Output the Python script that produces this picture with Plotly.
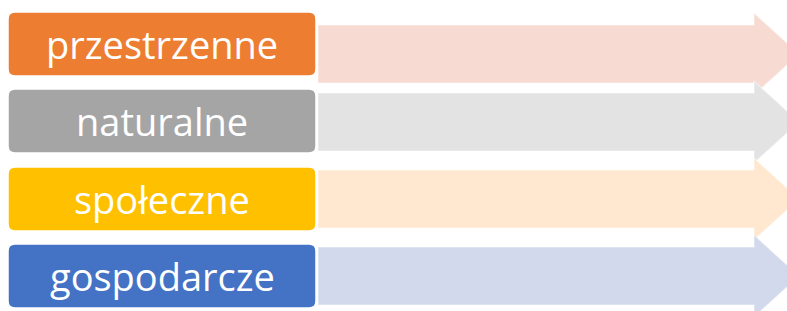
import plotly.graph_objects as go

# ---- data ----
labels = ["przestrzenne", "naturalne", "społeczne", "gospodarcze"]
box_colors = ["#ED7D31", "#A5A5A5", "#FFC000", "#4472C4"]
arrow_colors = ["#F7DBD3", "#E3E3E3", "#FFE8CF", "#D3D9EC"]

# ---- layout geometry (page pixels, y downwards) ----
W, H = 787, 311
box_tops = [12, 89, 167, 244]
box_h = 64
box_x0, box_x1 = 8, 316
radius = 7
shaft_tops = [25, 93, 170, 247]
shaft_h = 58
shaft_x0 = 318
head_x = 754
head_ext = 12
tip_x = 799


def rounded_rect(x0, y0, x1, y1, r):
    return (f"M {x0+r},{y0} L {x1-r},{y0} Q {x1},{y0} {x1},{y0+r} "
            f"L {x1},{y1-r} Q {x1},{y1} {x1-r},{y1} L {x0+r},{y1} "
            f"Q {x0},{y1} {x0},{y1-r} L {x0},{y0+r} Q {x0},{y0} {x0+r},{y0} Z")


def arrow(x0, y0, h):
    y1 = y0 + h
    yc = y0 + h / 2
    return (f"M {x0},{y0} L {head_x},{y0} L {head_x},{y0-head_ext} "
            f"L {tip_x},{yc} L {head_x},{y1+head_ext} L {head_x},{y1} "
            f"L {x0},{y1} Z")


shapes = []
annotations = []
for i, lab in enumerate(labels):
    st = shaft_tops[i]
    shapes.append(dict(type="path", xref="x", yref="y", path=arrow(shaft_x0, st, shaft_h),
                       fillcolor=arrow_colors[i], line=dict(color="rgba(255,255,255,0.35)", width=1.5),
                       layer="below"))
for i, lab in enumerate(labels):
    bt = box_tops[i]
    shapes.append(dict(type="path", xref="x", yref="y",
                       path=rounded_rect(box_x0, bt, box_x1, bt + box_h, radius),
                       fillcolor=box_colors[i], line=dict(color="white", width=1.5)))
    annotations.append(dict(x=(box_x0 + box_x1) / 2, y=bt + box_h / 2, xref="x", yref="y",
                            text=lab, showarrow=False,
                            font=dict(family="Open Sans", size=38, color="white"),
                            xanchor="center", yanchor="middle"))

fig = go.Figure()
fig.update_layout(
    width=W, height=H,
    margin=dict(l=0, r=0, t=0, b=0),
    paper_bgcolor="white", plot_bgcolor="white",
    xaxis=dict(range=[0, W], visible=False, fixedrange=True),
    yaxis=dict(range=[H, 0], visible=False, fixedrange=True),
    shapes=shapes, annotations=annotations, showlegend=False,
)
fig.write_html("out.html", config={"displayModeBar": False},
               post_script="document.body.style.margin='0';document.body.style.overflow='hidden';")
